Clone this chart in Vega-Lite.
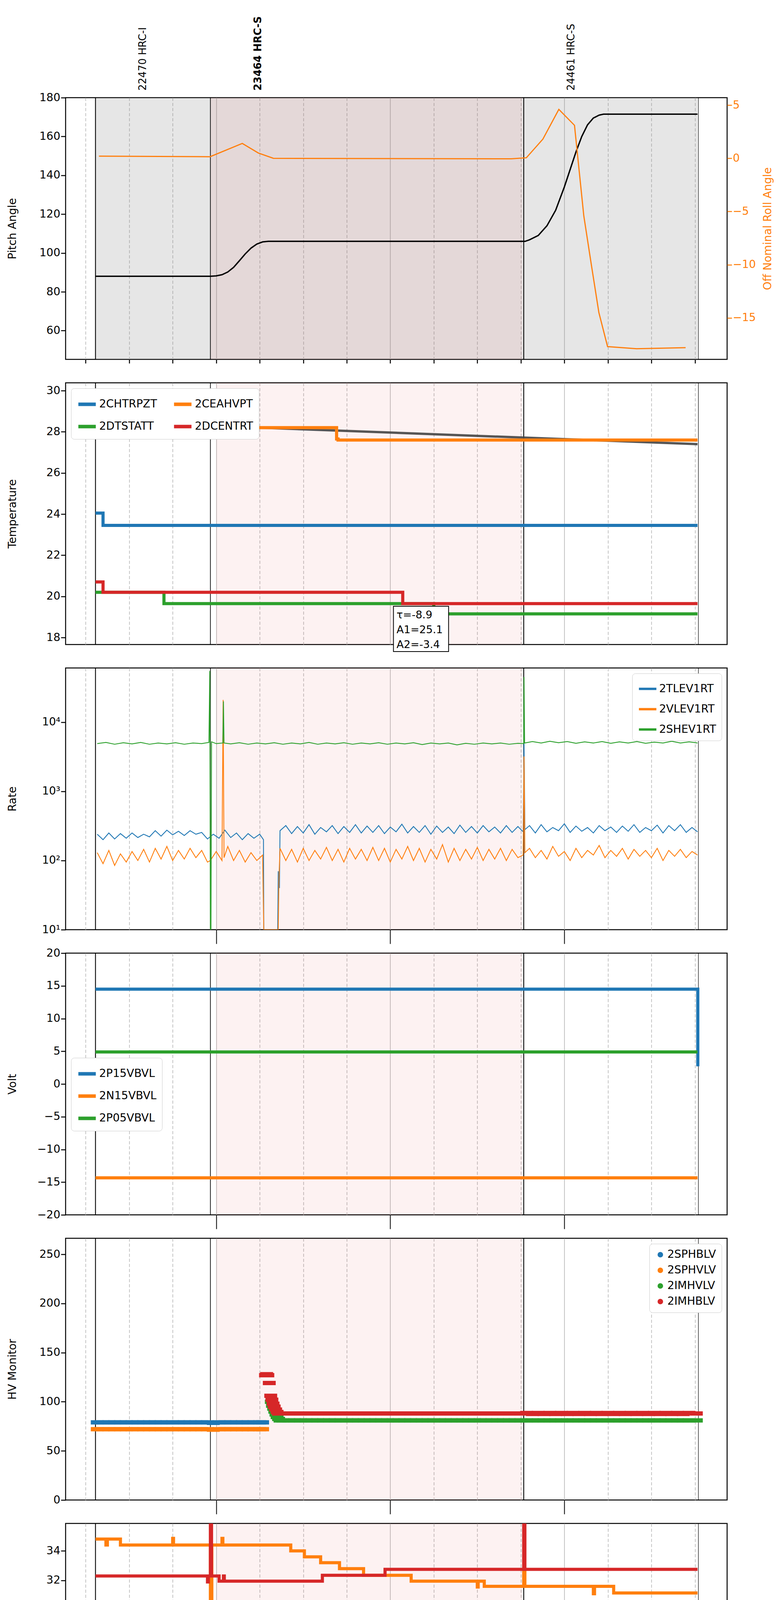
{
"$schema":"https://vega.github.io/schema/vega-lite/v6.json",
"padding":{"top":40,"left":16,"right":5,"bottom":5},
"background":"white",
"spacing":60,
"bounds":"flush",
"resolve":{"scale":{"color":"independent"}},
"config":{"font":"DejaVu Sans","view":{"stroke":"black","strokeWidth":2.5},
"axis":{"labelFontSize":28,"titleFontSize":28,"titleFontWeight":"normal","labelColor":"black","tickColor":"black","tickSize":12,"tickWidth":2.5,"domain":false,"grid":false,"labelFont":"DejaVu Sans","titleFont":"DejaVu Sans"},
"legend":{"fillColor":"white","strokeColor":"#cccccc","cornerRadius":8,"padding":14,"symbolStrokeWidth":9,"symbolSize":2000,"labelFontSize":28,"rowPadding":12,"columnPadding":24,"symbolType":"stroke","labelLimit":400,"title":null,"offset":14}},
"datasets":{
"bg":[{"a":60,"b":165.5}],
"bg1g":[{"a":18.4,"b":225.9}],
"bg1p":[{"a":58,"b":165.5}],
"vl":[{"m":18.4,"k":"major"},{"m":58,"k":"minor"},{"m":166,"k":"major"},{"m":226.2,"k":"end"}],
"obs":[{"m":34.8,"label":"22470 HRC-I","bold":false},{"m":74.5,"label":"23464 HRC-S","bold":true},{"m":182.4,"label":"24461 HRC-S","bold":false}],
"pitch":[{"m":18.4,"v":88},{"m":58,"v":88},{"m":60,"v":88.2},{"m":62,"v":88.8},{"m":64,"v":90.2},{"m":66,"v":92.6},{"m":68,"v":96},{"m":70,"v":99.5},{"m":72,"v":102.5},{"m":74,"v":104.6},{"m":76,"v":105.7},{"m":78,"v":106},{"m":166.5,"v":106},{"m":168,"v":106.8},{"m":171,"v":109},{"m":174,"v":114},{"m":177,"v":122},{"m":180,"v":134},{"m":182,"v":143},{"m":184,"v":152},{"m":186,"v":160},{"m":188,"v":166},{"m":190,"v":169.5},{"m":192,"v":171},{"m":193.5,"v":171.5},{"m":225.9,"v":171.5}],
"roll":[{"m":19.6,"v":0.2},{"m":57.9,"v":0.15},{"m":69,"v":1.4},{"m":74.5,"v":0.5},{"m":79.7,"v":0},{"m":161.7,"v":-0.05},{"m":166.9,"v":0.05},{"m":172.6,"v":1.8},{"m":178.1,"v":4.6},{"m":183.5,"v":3.1},{"m":186.7,"v":-5.4},{"m":189.3,"v":-10},{"m":191.9,"v":-14.5},{"m":194.9,"v":-17.7},{"m":204.9,"v":-17.9},{"m":221.8,"v":-17.8}],
"p2m":[{"m":18.4,"v":28.5},{"m":225.9,"v":27.4}],
"p2":[{"m":18.4,"s":"2CHTRPZT","v":24.05},{"m":21,"s":"2CHTRPZT","v":23.45},{"m":225.9,"s":"2CHTRPZT","v":23.45},
{"m":18.4,"s":"2CEAHVPT","v":28.9},{"m":27.5,"s":"2CEAHVPT","v":28.2},{"m":101.5,"s":"2CEAHVPT","v":27.65},{"m":102,"s":"2CEAHVPT","v":27.6},{"m":225.9,"s":"2CEAHVPT","v":27.6},
{"m":18.4,"s":"2DTSTATT","v":20.2},{"m":42,"s":"2DTSTATT","v":19.65},{"m":135,"s":"2DTSTATT","v":19.15},{"m":225.9,"s":"2DTSTATT","v":19.15},
{"m":18.4,"s":"2DCENTRT","v":20.7},{"m":21,"s":"2DCENTRT","v":20.2},{"m":124.3,"s":"2DCENTRT","v":19.65},{"m":225.9,"s":"2DCENTRT","v":19.65}],
"ann":[{"a":121.1,"b":140.1,"y1":19.52,"y2":17.32,"t":"τ=-8.9\nA1=25.1\nA2=-3.4"}],
"p3":[
{"m":19,"s":"2TLEV1RT","v":240},{"m":21,"s":"2TLEV1RT","v":200},{"m":23,"s":"2TLEV1RT","v":250},{"m":25,"s":"2TLEV1RT","v":205},{"m":27,"s":"2TLEV1RT","v":245},{"m":29,"s":"2TLEV1RT","v":210},{"m":31,"s":"2TLEV1RT","v":250},{"m":33,"s":"2TLEV1RT","v":215},{"m":35,"s":"2TLEV1RT","v":240},{"m":37,"s":"2TLEV1RT","v":220},{"m":39,"s":"2TLEV1RT","v":270},{"m":41,"s":"2TLEV1RT","v":225},{"m":43,"s":"2TLEV1RT","v":275},{"m":45,"s":"2TLEV1RT","v":235},{"m":47,"s":"2TLEV1RT","v":265},{"m":49,"s":"2TLEV1RT","v":230},{"m":51,"s":"2TLEV1RT","v":270},{"m":53,"s":"2TLEV1RT","v":240},{"m":55,"s":"2TLEV1RT","v":255},{"m":57,"s":"2TLEV1RT","v":205},{"m":59,"s":"2TLEV1RT","v":240},{"m":61,"s":"2TLEV1RT","v":210},{"m":63,"s":"2TLEV1RT","v":275},{"m":65,"s":"2TLEV1RT","v":215},{"m":67,"s":"2TLEV1RT","v":250},{"m":69,"s":"2TLEV1RT","v":200},{"m":71,"s":"2TLEV1RT","v":245},{"m":73,"s":"2TLEV1RT","v":210},{"m":75,"s":"2TLEV1RT","v":240},{"m":76.3,"s":"2TLEV1RT","v":200},{"m":76.4,"s":"2TLEV1RT","v":10},{"m":81.2,"s":"2TLEV1RT","v":10},{"m":81.4,"s":"2TLEV1RT","v":70},{"m":81.8,"s":"2TLEV1RT","v":40},{"m":82,"s":"2TLEV1RT","v":270},{"m":84,"s":"2TLEV1RT","v":320},{"m":86,"s":"2TLEV1RT","v":245},{"m":88,"s":"2TLEV1RT","v":310},{"m":90,"s":"2TLEV1RT","v":250},{"m":92,"s":"2TLEV1RT","v":330},{"m":94,"s":"2TLEV1RT","v":240},{"m":96,"s":"2TLEV1RT","v":300},{"m":98,"s":"2TLEV1RT","v":260},{"m":100,"s":"2TLEV1RT","v":320},{"m":102,"s":"2TLEV1RT","v":245},{"m":104,"s":"2TLEV1RT","v":310},{"m":106,"s":"2TLEV1RT","v":255},{"m":108,"s":"2TLEV1RT","v":330},{"m":110,"s":"2TLEV1RT","v":250},{"m":112,"s":"2TLEV1RT","v":315},{"m":114,"s":"2TLEV1RT","v":255},{"m":116,"s":"2TLEV1RT","v":320},{"m":118,"s":"2TLEV1RT","v":245},{"m":120,"s":"2TLEV1RT","v":305},{"m":122,"s":"2TLEV1RT","v":260},{"m":124,"s":"2TLEV1RT","v":335},{"m":126,"s":"2TLEV1RT","v":250},{"m":128,"s":"2TLEV1RT","v":310},{"m":130,"s":"2TLEV1RT","v":255},{"m":132,"s":"2TLEV1RT","v":320},{"m":134,"s":"2TLEV1RT","v":240},{"m":136,"s":"2TLEV1RT","v":315},{"m":138,"s":"2TLEV1RT","v":255},{"m":140,"s":"2TLEV1RT","v":305},{"m":142,"s":"2TLEV1RT","v":245},{"m":144,"s":"2TLEV1RT","v":325},{"m":146,"s":"2TLEV1RT","v":255},{"m":148,"s":"2TLEV1RT","v":310},{"m":150,"s":"2TLEV1RT","v":250},{"m":152,"s":"2TLEV1RT","v":320},{"m":154,"s":"2TLEV1RT","v":260},{"m":156,"s":"2TLEV1RT","v":305},{"m":158,"s":"2TLEV1RT","v":250},{"m":160,"s":"2TLEV1RT","v":320},{"m":162,"s":"2TLEV1RT","v":255},{"m":164,"s":"2TLEV1RT","v":310},{"m":165.8,"s":"2TLEV1RT","v":260},{"m":166.1,"s":"2TLEV1RT","v":5000},{"m":166.4,"s":"2TLEV1RT","v":280},{"m":168,"s":"2TLEV1RT","v":320},{"m":170,"s":"2TLEV1RT","v":250},{"m":172,"s":"2TLEV1RT","v":330},{"m":174,"s":"2TLEV1RT","v":260},{"m":176,"s":"2TLEV1RT","v":300},{"m":178,"s":"2TLEV1RT","v":270},{"m":180,"s":"2TLEV1RT","v":340},{"m":182,"s":"2TLEV1RT","v":255},{"m":184,"s":"2TLEV1RT","v":315},{"m":186,"s":"2TLEV1RT","v":265},{"m":188,"s":"2TLEV1RT","v":300},{"m":190,"s":"2TLEV1RT","v":250},{"m":192,"s":"2TLEV1RT","v":320},{"m":194,"s":"2TLEV1RT","v":270},{"m":196,"s":"2TLEV1RT","v":305},{"m":198,"s":"2TLEV1RT","v":255},{"m":200,"s":"2TLEV1RT","v":315},{"m":202,"s":"2TLEV1RT","v":265},{"m":204,"s":"2TLEV1RT","v":330},{"m":206,"s":"2TLEV1RT","v":255},{"m":208,"s":"2TLEV1RT","v":300},{"m":210,"s":"2TLEV1RT","v":270},{"m":212,"s":"2TLEV1RT","v":325},{"m":214,"s":"2TLEV1RT","v":250},{"m":216,"s":"2TLEV1RT","v":320},{"m":218,"s":"2TLEV1RT","v":270},{"m":220,"s":"2TLEV1RT","v":330},{"m":222,"s":"2TLEV1RT","v":255},{"m":224,"s":"2TLEV1RT","v":300},{"m":225.9,"s":"2TLEV1RT","v":260},
{"m":19,"s":"2VLEV1RT","v":130},{"m":21,"s":"2VLEV1RT","v":90},{"m":23,"s":"2VLEV1RT","v":140},{"m":25,"s":"2VLEV1RT","v":85},{"m":27,"s":"2VLEV1RT","v":125},{"m":29,"s":"2VLEV1RT","v":95},{"m":31,"s":"2VLEV1RT","v":135},{"m":33,"s":"2VLEV1RT","v":100},{"m":35,"s":"2VLEV1RT","v":145},{"m":37,"s":"2VLEV1RT","v":95},{"m":39,"s":"2VLEV1RT","v":150},{"m":41,"s":"2VLEV1RT","v":105},{"m":43,"s":"2VLEV1RT","v":160},{"m":45,"s":"2VLEV1RT","v":100},{"m":47,"s":"2VLEV1RT","v":140},{"m":49,"s":"2VLEV1RT","v":105},{"m":51,"s":"2VLEV1RT","v":150},{"m":53,"s":"2VLEV1RT","v":110},{"m":55,"s":"2VLEV1RT","v":140},{"m":57,"s":"2VLEV1RT","v":95},{"m":58,"s":"2VLEV1RT","v":100},{"m":60,"s":"2VLEV1RT","v":135},{"m":62,"s":"2VLEV1RT","v":100},{"m":62.4,"s":"2VLEV1RT","v":21000},{"m":62.7,"s":"2VLEV1RT","v":110},{"m":64,"s":"2VLEV1RT","v":160},{"m":66,"s":"2VLEV1RT","v":100},{"m":68,"s":"2VLEV1RT","v":140},{"m":70,"s":"2VLEV1RT","v":95},{"m":72,"s":"2VLEV1RT","v":130},{"m":74,"s":"2VLEV1RT","v":100},{"m":76,"s":"2VLEV1RT","v":120},{"m":76.4,"s":"2VLEV1RT","v":10},{"m":81.4,"s":"2VLEV1RT","v":10},{"m":81.6,"s":"2VLEV1RT","v":50},{"m":82,"s":"2VLEV1RT","v":150},{"m":84,"s":"2VLEV1RT","v":100},{"m":86,"s":"2VLEV1RT","v":145},{"m":88,"s":"2VLEV1RT","v":95},{"m":90,"s":"2VLEV1RT","v":150},{"m":92,"s":"2VLEV1RT","v":100},{"m":94,"s":"2VLEV1RT","v":140},{"m":96,"s":"2VLEV1RT","v":105},{"m":98,"s":"2VLEV1RT","v":155},{"m":100,"s":"2VLEV1RT","v":100},{"m":102,"s":"2VLEV1RT","v":145},{"m":104,"s":"2VLEV1RT","v":95},{"m":106,"s":"2VLEV1RT","v":150},{"m":108,"s":"2VLEV1RT","v":105},{"m":110,"s":"2VLEV1RT","v":145},{"m":112,"s":"2VLEV1RT","v":100},{"m":114,"s":"2VLEV1RT","v":155},{"m":116,"s":"2VLEV1RT","v":100},{"m":118,"s":"2VLEV1RT","v":150},{"m":120,"s":"2VLEV1RT","v":95},{"m":122,"s":"2VLEV1RT","v":145},{"m":124,"s":"2VLEV1RT","v":105},{"m":126,"s":"2VLEV1RT","v":160},{"m":128,"s":"2VLEV1RT","v":100},{"m":130,"s":"2VLEV1RT","v":150},{"m":132,"s":"2VLEV1RT","v":95},{"m":134,"s":"2VLEV1RT","v":145},{"m":136,"s":"2VLEV1RT","v":105},{"m":138,"s":"2VLEV1RT","v":170},{"m":140,"s":"2VLEV1RT","v":95},{"m":142,"s":"2VLEV1RT","v":150},{"m":144,"s":"2VLEV1RT","v":100},{"m":146,"s":"2VLEV1RT","v":145},{"m":148,"s":"2VLEV1RT","v":105},{"m":150,"s":"2VLEV1RT","v":155},{"m":152,"s":"2VLEV1RT","v":100},{"m":154,"s":"2VLEV1RT","v":145},{"m":156,"s":"2VLEV1RT","v":105},{"m":158,"s":"2VLEV1RT","v":150},{"m":160,"s":"2VLEV1RT","v":100},{"m":162,"s":"2VLEV1RT","v":145},{"m":164,"s":"2VLEV1RT","v":110},{"m":165.8,"s":"2VLEV1RT","v":120},{"m":166.1,"s":"2VLEV1RT","v":3200},{"m":166.4,"s":"2VLEV1RT","v":130},{"m":168,"s":"2VLEV1RT","v":150},{"m":170,"s":"2VLEV1RT","v":110},{"m":172,"s":"2VLEV1RT","v":140},{"m":174,"s":"2VLEV1RT","v":105},{"m":176,"s":"2VLEV1RT","v":160},{"m":178,"s":"2VLEV1RT","v":115},{"m":180,"s":"2VLEV1RT","v":135},{"m":182,"s":"2VLEV1RT","v":100},{"m":184,"s":"2VLEV1RT","v":150},{"m":186,"s":"2VLEV1RT","v":110},{"m":188,"s":"2VLEV1RT","v":140},{"m":190,"s":"2VLEV1RT","v":120},{"m":192,"s":"2VLEV1RT","v":165},{"m":194,"s":"2VLEV1RT","v":110},{"m":196,"s":"2VLEV1RT","v":140},{"m":198,"s":"2VLEV1RT","v":115},{"m":200,"s":"2VLEV1RT","v":150},{"m":202,"s":"2VLEV1RT","v":105},{"m":204,"s":"2VLEV1RT","v":145},{"m":206,"s":"2VLEV1RT","v":115},{"m":208,"s":"2VLEV1RT","v":140},{"m":210,"s":"2VLEV1RT","v":110},{"m":212,"s":"2VLEV1RT","v":150},{"m":214,"s":"2VLEV1RT","v":100},{"m":216,"s":"2VLEV1RT","v":140},{"m":218,"s":"2VLEV1RT","v":115},{"m":220,"s":"2VLEV1RT","v":145},{"m":222,"s":"2VLEV1RT","v":110},{"m":224,"s":"2VLEV1RT","v":135},{"m":225.9,"s":"2VLEV1RT","v":120},
{"m":19,"s":"2SHEV1RT","v":4900},{"m":22,"s":"2SHEV1RT","v":5100},{"m":25,"s":"2SHEV1RT","v":4800},{"m":28,"s":"2SHEV1RT","v":5050},{"m":31,"s":"2SHEV1RT","v":4850},{"m":34,"s":"2SHEV1RT","v":5100},{"m":37,"s":"2SHEV1RT","v":4800},{"m":40,"s":"2SHEV1RT","v":5000},{"m":43,"s":"2SHEV1RT","v":4850},{"m":46,"s":"2SHEV1RT","v":5050},{"m":49,"s":"2SHEV1RT","v":4800},{"m":52,"s":"2SHEV1RT","v":5000},{"m":55,"s":"2SHEV1RT","v":4900},{"m":57.5,"s":"2SHEV1RT","v":5100},{"m":57.8,"s":"2SHEV1RT","v":55000},{"m":58,"s":"2SHEV1RT","v":10},{"m":58.2,"s":"2SHEV1RT","v":10},{"m":58.4,"s":"2SHEV1RT","v":5200},{"m":60,"s":"2SHEV1RT","v":4900},{"m":62.3,"s":"2SHEV1RT","v":5000},{"m":62.5,"s":"2SHEV1RT","v":20000},{"m":62.7,"s":"2SHEV1RT","v":5000},{"m":65,"s":"2SHEV1RT","v":4850},{"m":68,"s":"2SHEV1RT","v":5050},{"m":71,"s":"2SHEV1RT","v":4800},{"m":74,"s":"2SHEV1RT","v":5000},{"m":77,"s":"2SHEV1RT","v":4850},{"m":80,"s":"2SHEV1RT","v":5050},{"m":83,"s":"2SHEV1RT","v":4800},{"m":86,"s":"2SHEV1RT","v":5000},{"m":89,"s":"2SHEV1RT","v":4850},{"m":92,"s":"2SHEV1RT","v":5100},{"m":95,"s":"2SHEV1RT","v":4800},{"m":98,"s":"2SHEV1RT","v":5000},{"m":101,"s":"2SHEV1RT","v":4850},{"m":104,"s":"2SHEV1RT","v":5050},{"m":107,"s":"2SHEV1RT","v":4800},{"m":110,"s":"2SHEV1RT","v":5000},{"m":113,"s":"2SHEV1RT","v":4850},{"m":116,"s":"2SHEV1RT","v":5050},{"m":119,"s":"2SHEV1RT","v":4800},{"m":122,"s":"2SHEV1RT","v":5000},{"m":125,"s":"2SHEV1RT","v":4850},{"m":128,"s":"2SHEV1RT","v":5050},{"m":131,"s":"2SHEV1RT","v":4750},{"m":134,"s":"2SHEV1RT","v":5000},{"m":137,"s":"2SHEV1RT","v":4850},{"m":140,"s":"2SHEV1RT","v":5000},{"m":143,"s":"2SHEV1RT","v":4700},{"m":146,"s":"2SHEV1RT","v":4950},{"m":149,"s":"2SHEV1RT","v":4800},{"m":152,"s":"2SHEV1RT","v":5000},{"m":155,"s":"2SHEV1RT","v":4850},{"m":158,"s":"2SHEV1RT","v":5000},{"m":161,"s":"2SHEV1RT","v":4800},{"m":164,"s":"2SHEV1RT","v":4950},{"m":166,"s":"2SHEV1RT","v":4900},{"m":166.1,"s":"2SHEV1RT","v":45000},{"m":166.3,"s":"2SHEV1RT","v":5000},{"m":169,"s":"2SHEV1RT","v":5250},{"m":172,"s":"2SHEV1RT","v":5000},{"m":175,"s":"2SHEV1RT","v":5300},{"m":178,"s":"2SHEV1RT","v":5050},{"m":181,"s":"2SHEV1RT","v":5250},{"m":184,"s":"2SHEV1RT","v":4950},{"m":187,"s":"2SHEV1RT","v":5200},{"m":190,"s":"2SHEV1RT","v":5000},{"m":193,"s":"2SHEV1RT","v":5250},{"m":196,"s":"2SHEV1RT","v":4950},{"m":199,"s":"2SHEV1RT","v":5200},{"m":202,"s":"2SHEV1RT","v":5000},{"m":205,"s":"2SHEV1RT","v":5250},{"m":208,"s":"2SHEV1RT","v":4950},{"m":211,"s":"2SHEV1RT","v":5150},{"m":214,"s":"2SHEV1RT","v":5000},{"m":217,"s":"2SHEV1RT","v":5300},{"m":220,"s":"2SHEV1RT","v":5000},{"m":223,"s":"2SHEV1RT","v":5200},{"m":225.9,"s":"2SHEV1RT","v":5000}],
"p4":[{"m":18.4,"s":"2P15VBVL","v":14.5},{"m":225.9,"s":"2P15VBVL","v":14.5},{"m":226,"s":"2P15VBVL","v":2.7},
{"m":18.4,"s":"2N15VBVL","v":-14.35},{"m":225.9,"s":"2N15VBVL","v":-14.35},
{"m":18.4,"s":"2P05VBVL","v":4.9},{"m":225.9,"s":"2P05VBVL","v":4.9}],
"p5":[
{"m":19,"s":"2SPHBLV","v":79},{"m":21,"s":"2SPHBLV","v":79},{"m":23,"s":"2SPHBLV","v":79},{"m":25,"s":"2SPHBLV","v":79},{"m":27,"s":"2SPHBLV","v":79},{"m":29,"s":"2SPHBLV","v":79},{"m":31,"s":"2SPHBLV","v":79},{"m":33,"s":"2SPHBLV","v":79},{"m":35,"s":"2SPHBLV","v":79},{"m":37,"s":"2SPHBLV","v":79},{"m":39,"s":"2SPHBLV","v":79},{"m":41,"s":"2SPHBLV","v":79},{"m":43,"s":"2SPHBLV","v":79},{"m":45,"s":"2SPHBLV","v":79},{"m":47,"s":"2SPHBLV","v":79},{"m":49,"s":"2SPHBLV","v":79},{"m":51,"s":"2SPHBLV","v":79},{"m":53,"s":"2SPHBLV","v":79},{"m":55,"s":"2SPHBLV","v":79},{"m":57,"s":"2SPHBLV","v":79},{"m":59,"s":"2SPHBLV","v":78.5},{"m":61,"s":"2SPHBLV","v":79},{"m":63,"s":"2SPHBLV","v":79},{"m":65,"s":"2SPHBLV","v":79},{"m":67,"s":"2SPHBLV","v":79},{"m":69,"s":"2SPHBLV","v":79},{"m":71,"s":"2SPHBLV","v":79},{"m":73,"s":"2SPHBLV","v":79},{"m":75,"s":"2SPHBLV","v":79},{"m":76,"s":"2SPHBLV","v":79},
{"m":19,"s":"2SPHVLV","v":72},{"m":21,"s":"2SPHVLV","v":72},{"m":23,"s":"2SPHVLV","v":72},{"m":25,"s":"2SPHVLV","v":72},{"m":27,"s":"2SPHVLV","v":72},{"m":29,"s":"2SPHVLV","v":72},{"m":31,"s":"2SPHVLV","v":72},{"m":33,"s":"2SPHVLV","v":72},{"m":35,"s":"2SPHVLV","v":72},{"m":37,"s":"2SPHVLV","v":72},{"m":39,"s":"2SPHVLV","v":72},{"m":41,"s":"2SPHVLV","v":72},{"m":43,"s":"2SPHVLV","v":72},{"m":45,"s":"2SPHVLV","v":72},{"m":47,"s":"2SPHVLV","v":72},{"m":49,"s":"2SPHVLV","v":72},{"m":51,"s":"2SPHVLV","v":72},{"m":53,"s":"2SPHVLV","v":72},{"m":55,"s":"2SPHVLV","v":72},{"m":57,"s":"2SPHVLV","v":72},{"m":59,"s":"2SPHVLV","v":71.5},{"m":61,"s":"2SPHVLV","v":72},{"m":63,"s":"2SPHVLV","v":72},{"m":65,"s":"2SPHVLV","v":72},{"m":67,"s":"2SPHVLV","v":72},{"m":69,"s":"2SPHVLV","v":72},{"m":71,"s":"2SPHVLV","v":72},{"m":73,"s":"2SPHVLV","v":72},{"m":75,"s":"2SPHVLV","v":72},{"m":76,"s":"2SPHVLV","v":72},
{"m":79,"s":"2IMHVLV","v":100},{"m":79.4,"s":"2IMHVLV","v":96},{"m":79.8,"s":"2IMHVLV","v":93},{"m":80.2,"s":"2IMHVLV","v":90},{"m":80.6,"s":"2IMHVLV","v":87},{"m":81,"s":"2IMHVLV","v":84.5},{"m":81.5,"s":"2IMHVLV","v":82.5},{"m":82,"s":"2IMHVLV","v":81},{"m":83,"s":"2IMHVLV","v":81},{"m":85,"s":"2IMHVLV","v":81},{"m":87,"s":"2IMHVLV","v":81},{"m":89,"s":"2IMHVLV","v":81},{"m":91,"s":"2IMHVLV","v":81},{"m":93,"s":"2IMHVLV","v":81},{"m":95,"s":"2IMHVLV","v":81},{"m":97,"s":"2IMHVLV","v":81},{"m":99,"s":"2IMHVLV","v":81},{"m":101,"s":"2IMHVLV","v":81},{"m":103,"s":"2IMHVLV","v":81},{"m":105,"s":"2IMHVLV","v":81},{"m":107,"s":"2IMHVLV","v":81},{"m":109,"s":"2IMHVLV","v":81},{"m":111,"s":"2IMHVLV","v":81},{"m":113,"s":"2IMHVLV","v":81},{"m":115,"s":"2IMHVLV","v":81},{"m":117,"s":"2IMHVLV","v":81},{"m":119,"s":"2IMHVLV","v":81},{"m":121,"s":"2IMHVLV","v":81},{"m":123,"s":"2IMHVLV","v":81},{"m":125,"s":"2IMHVLV","v":81},{"m":127,"s":"2IMHVLV","v":81},{"m":129,"s":"2IMHVLV","v":81},{"m":131,"s":"2IMHVLV","v":81},{"m":133,"s":"2IMHVLV","v":81},{"m":135,"s":"2IMHVLV","v":81},{"m":137,"s":"2IMHVLV","v":81},{"m":139,"s":"2IMHVLV","v":81},{"m":141,"s":"2IMHVLV","v":81},{"m":143,"s":"2IMHVLV","v":81},{"m":145,"s":"2IMHVLV","v":81},{"m":147,"s":"2IMHVLV","v":81},{"m":149,"s":"2IMHVLV","v":81},{"m":151,"s":"2IMHVLV","v":81},{"m":153,"s":"2IMHVLV","v":81},{"m":155,"s":"2IMHVLV","v":81},{"m":157,"s":"2IMHVLV","v":81},{"m":159,"s":"2IMHVLV","v":81},{"m":161,"s":"2IMHVLV","v":81},{"m":163,"s":"2IMHVLV","v":81},{"m":165,"s":"2IMHVLV","v":81},{"m":167,"s":"2IMHVLV","v":81},{"m":169,"s":"2IMHVLV","v":81},{"m":171,"s":"2IMHVLV","v":81},{"m":173,"s":"2IMHVLV","v":81},{"m":175,"s":"2IMHVLV","v":81},{"m":177,"s":"2IMHVLV","v":81},{"m":179,"s":"2IMHVLV","v":81},{"m":181,"s":"2IMHVLV","v":81},{"m":183,"s":"2IMHVLV","v":81},{"m":185,"s":"2IMHVLV","v":81},{"m":187,"s":"2IMHVLV","v":81},{"m":189,"s":"2IMHVLV","v":81},{"m":191,"s":"2IMHVLV","v":81},{"m":193,"s":"2IMHVLV","v":81},{"m":195,"s":"2IMHVLV","v":81},{"m":197,"s":"2IMHVLV","v":81},{"m":199,"s":"2IMHVLV","v":81},{"m":201,"s":"2IMHVLV","v":81},{"m":203,"s":"2IMHVLV","v":81},{"m":205,"s":"2IMHVLV","v":81},{"m":207,"s":"2IMHVLV","v":81},{"m":209,"s":"2IMHVLV","v":81},{"m":211,"s":"2IMHVLV","v":81},{"m":213,"s":"2IMHVLV","v":81},{"m":215,"s":"2IMHVLV","v":81},{"m":217,"s":"2IMHVLV","v":81},{"m":219,"s":"2IMHVLV","v":81},{"m":221,"s":"2IMHVLV","v":81},{"m":223,"s":"2IMHVLV","v":81},{"m":225.5,"s":"2IMHVLV","v":81},
{"m":77,"s":"2IMHBLV","v":127},{"m":77.4,"s":"2IMHBLV","v":128},{"m":77.8,"s":"2IMHBLV","v":127},{"m":78.3,"s":"2IMHBLV","v":119},{"m":78.8,"s":"2IMHBLV","v":106},{"m":79.2,"s":"2IMHBLV","v":102},{"m":79.6,"s":"2IMHBLV","v":98},{"m":80,"s":"2IMHBLV","v":95},{"m":80.5,"s":"2IMHBLV","v":92},{"m":81,"s":"2IMHBLV","v":89.5},{"m":81.5,"s":"2IMHBLV","v":88},{"m":83,"s":"2IMHBLV","v":88},{"m":85,"s":"2IMHBLV","v":88},{"m":87,"s":"2IMHBLV","v":88},{"m":89,"s":"2IMHBLV","v":88},{"m":91,"s":"2IMHBLV","v":88},{"m":93,"s":"2IMHBLV","v":88},{"m":95,"s":"2IMHBLV","v":88},{"m":97,"s":"2IMHBLV","v":88},{"m":99,"s":"2IMHBLV","v":88},{"m":101,"s":"2IMHBLV","v":88},{"m":103,"s":"2IMHBLV","v":88},{"m":105,"s":"2IMHBLV","v":88},{"m":107,"s":"2IMHBLV","v":88},{"m":109,"s":"2IMHBLV","v":88},{"m":111,"s":"2IMHBLV","v":88},{"m":113,"s":"2IMHBLV","v":88},{"m":115,"s":"2IMHBLV","v":88},{"m":117,"s":"2IMHBLV","v":88},{"m":119,"s":"2IMHBLV","v":88},{"m":121,"s":"2IMHBLV","v":88},{"m":123,"s":"2IMHBLV","v":88},{"m":125,"s":"2IMHBLV","v":88},{"m":127,"s":"2IMHBLV","v":88},{"m":129,"s":"2IMHBLV","v":88},{"m":131,"s":"2IMHBLV","v":88},{"m":133,"s":"2IMHBLV","v":88},{"m":135,"s":"2IMHBLV","v":88},{"m":137,"s":"2IMHBLV","v":88},{"m":139,"s":"2IMHBLV","v":88},{"m":141,"s":"2IMHBLV","v":88},{"m":143,"s":"2IMHBLV","v":88},{"m":145,"s":"2IMHBLV","v":88},{"m":147,"s":"2IMHBLV","v":88},{"m":149,"s":"2IMHBLV","v":88},{"m":151,"s":"2IMHBLV","v":88},{"m":153,"s":"2IMHBLV","v":88},{"m":155,"s":"2IMHBLV","v":88},{"m":157,"s":"2IMHBLV","v":88},{"m":159,"s":"2IMHBLV","v":88},{"m":161,"s":"2IMHBLV","v":88},{"m":163,"s":"2IMHBLV","v":88},{"m":165,"s":"2IMHBLV","v":88},{"m":167,"s":"2IMHBLV","v":88.5},{"m":169,"s":"2IMHBLV","v":87.5},{"m":171,"s":"2IMHBLV","v":88.5},{"m":173,"s":"2IMHBLV","v":87.5},{"m":175,"s":"2IMHBLV","v":88.5},{"m":177,"s":"2IMHBLV","v":87.5},{"m":179,"s":"2IMHBLV","v":88.5},{"m":181,"s":"2IMHBLV","v":87.5},{"m":183,"s":"2IMHBLV","v":88.5},{"m":185,"s":"2IMHBLV","v":87.5},{"m":187,"s":"2IMHBLV","v":88.5},{"m":189,"s":"2IMHBLV","v":87.5},{"m":191,"s":"2IMHBLV","v":88.5},{"m":193,"s":"2IMHBLV","v":87.5},{"m":195,"s":"2IMHBLV","v":88.5},{"m":197,"s":"2IMHBLV","v":87.5},{"m":199,"s":"2IMHBLV","v":88.5},{"m":201,"s":"2IMHBLV","v":87.5},{"m":203,"s":"2IMHBLV","v":88.5},{"m":205,"s":"2IMHBLV","v":87.5},{"m":207,"s":"2IMHBLV","v":88.5},{"m":209,"s":"2IMHBLV","v":87.5},{"m":211,"s":"2IMHBLV","v":88.5},{"m":213,"s":"2IMHBLV","v":87.5},{"m":215,"s":"2IMHBLV","v":88.5},{"m":217,"s":"2IMHBLV","v":87.5},{"m":219,"s":"2IMHBLV","v":88.5},{"m":221,"s":"2IMHBLV","v":87.5},{"m":223,"s":"2IMHBLV","v":88.5},{"m":225.5,"s":"2IMHBLV","v":88}],
"p6":[
{"m":18.4,"s":"2SPINATM","v":20.3},{"m":71.4,"s":"2SPINATM","v":19.65},{"m":165.9,"s":"2SPINATM","v":19.65},{"m":166,"s":"2SPINATM","v":18.13},{"m":166.4,"s":"2SPINATM","v":19.65},{"m":192.8,"s":"2SPINATM","v":18.95},{"m":225.9,"s":"2SPINATM","v":18.95},
{"m":18.4,"s":"2SPHVATM","v":34.8},{"m":22,"s":"2SPHVATM","v":34.4},{"m":22.5,"s":"2SPHVATM","v":34.8},{"m":27,"s":"2SPHVATM","v":34.4},{"m":45,"s":"2SPHVATM","v":34.85},{"m":45.3,"s":"2SPHVATM","v":34.4},{"m":57.9,"s":"2SPHVATM","v":34.4},{"m":58,"s":"2SPHVATM","v":18.13},{"m":58.5,"s":"2SPHVATM","v":34.4},{"m":62,"s":"2SPHVATM","v":34.85},{"m":62.3,"s":"2SPHVATM","v":34.4},{"m":85.7,"s":"2SPHVATM","v":34.0},{"m":90.4,"s":"2SPHVATM","v":33.6},{"m":96,"s":"2SPHVATM","v":33.2},{"m":102.5,"s":"2SPHVATM","v":32.8},{"m":110.8,"s":"2SPHVATM","v":32.35},{"m":127.2,"s":"2SPHVATM","v":31.95},{"m":150,"s":"2SPHVATM","v":31.55},{"m":150.3,"s":"2SPHVATM","v":31.95},{"m":152.4,"s":"2SPHVATM","v":31.6},{"m":166,"s":"2SPHVATM","v":32.7},{"m":166.4,"s":"2SPHVATM","v":31.6},{"m":190,"s":"2SPHVATM","v":31.1},{"m":190.4,"s":"2SPHVATM","v":31.6},{"m":197,"s":"2SPHVATM","v":31.15},{"m":225.9,"s":"2SPHVATM","v":31.15},
{"m":18.4,"s":"2IMINATM","v":20.3},{"m":57.9,"s":"2IMINATM","v":20.3},{"m":58,"s":"2IMINATM","v":18.13},{"m":58.4,"s":"2IMINATM","v":20.3},{"m":85.5,"s":"2IMINATM","v":19.6},{"m":85.8,"s":"2IMINATM","v":20.3},{"m":103.5,"s":"2IMINATM","v":19.65},{"m":103.8,"s":"2IMINATM","v":20.3},{"m":106.4,"s":"2IMINATM","v":19.65},{"m":225.9,"s":"2IMINATM","v":19.65},
{"m":18.4,"s":"2IMHVATM","v":32.3},{"m":57,"s":"2IMHVATM","v":31.9},{"m":57.3,"s":"2IMHVATM","v":32.3},{"m":58,"s":"2IMHVATM","v":35.86},{"m":58.4,"s":"2IMHVATM","v":32.3},{"m":61,"s":"2IMHVATM","v":31.95},{"m":62.5,"s":"2IMHVATM","v":32.3},{"m":62.8,"s":"2IMHVATM","v":31.95},{"m":96.6,"s":"2IMHVATM","v":32.35},{"m":118.2,"s":"2IMHVATM","v":32.75},{"m":166,"s":"2IMHVATM","v":35.86},{"m":166.4,"s":"2IMHVATM","v":32.75},{"m":225.9,"s":"2IMHVATM","v":32.75}],
"p7":[
{"m":18.4,"s":"2FHTRMZT","v":21.3},{"m":37,"s":"2FHTRMZT","v":20.7},{"m":225.9,"s":"2FHTRMZT","v":20.7},
{"m":18.4,"s":"2FRADPYT","v":15.7},{"m":66.4,"s":"2FRADPYT","v":15.2},{"m":81.6,"s":"2FRADPYT","v":15.7},{"m":194.2,"s":"2FRADPYT","v":16.2},{"m":208.7,"s":"2FRADPYT","v":16.65},{"m":225.9,"s":"2FRADPYT","v":16.65},
{"m":18.4,"s":"2FEPRATM","v":23.1},{"m":58,"s":"2FEPRATM","v":24.66},{"m":58.4,"s":"2FEPRATM","v":23.1},{"m":69.7,"s":"2FEPRATM","v":22.4},{"m":87.5,"s":"2FEPRATM","v":23.1},{"m":87.8,"s":"2FEPRATM","v":22.4},{"m":166,"s":"2FEPRATM","v":24.66},{"m":166.4,"s":"2FEPRATM","v":22.4},{"m":225.9,"s":"2FEPRATM","v":22.4},
{"m":18.4,"s":"2FE00ATM","v":21.4},{"m":25.6,"s":"2FE00ATM","v":21.1},{"m":29,"s":"2FE00ATM","v":21.7},{"m":29.3,"s":"2FE00ATM","v":21.1},{"m":35,"s":"2FE00ATM","v":21.4},{"m":35.3,"s":"2FE00ATM","v":21.1},{"m":41.9,"s":"2FE00ATM","v":22.0},{"m":42.2,"s":"2FE00ATM","v":21.1},{"m":46.9,"s":"2FE00ATM","v":20.7},{"m":47.2,"s":"2FE00ATM","v":21.1},{"m":55.3,"s":"2FE00ATM","v":21.7},{"m":55.6,"s":"2FE00ATM","v":21.1},{"m":58,"s":"2FE00ATM","v":14.21},{"m":58.5,"s":"2FE00ATM","v":21.1},{"m":62.6,"s":"2FE00ATM","v":20.7},{"m":62.9,"s":"2FE00ATM","v":21.1},{"m":68.5,"s":"2FE00ATM","v":20.4},{"m":68.8,"s":"2FE00ATM","v":21.1},{"m":74,"s":"2FE00ATM","v":20.6},{"m":74.3,"s":"2FE00ATM","v":21.1},{"m":85.7,"s":"2FE00ATM","v":20.8},{"m":86,"s":"2FE00ATM","v":20.1},{"m":86.3,"s":"2FE00ATM","v":20.8},{"m":87,"s":"2FE00ATM","v":21.1},{"m":87.3,"s":"2FE00ATM","v":20.8},{"m":95.4,"s":"2FE00ATM","v":21.7},{"m":95.7,"s":"2FE00ATM","v":20.8},{"m":104,"s":"2FE00ATM","v":21.1},{"m":104.3,"s":"2FE00ATM","v":20.8},{"m":110,"s":"2FE00ATM","v":21.1},{"m":110.3,"s":"2FE00ATM","v":20.8},{"m":118,"s":"2FE00ATM","v":21.1},{"m":118.3,"s":"2FE00ATM","v":20.8},{"m":119.8,"s":"2FE00ATM","v":21.4},{"m":120,"s":"2FE00ATM","v":20.1},{"m":120.3,"s":"2FE00ATM","v":20.8},{"m":127.5,"s":"2FE00ATM","v":21.4},{"m":127.8,"s":"2FE00ATM","v":20.8},{"m":131.8,"s":"2FE00ATM","v":21.4},{"m":132.1,"s":"2FE00ATM","v":20.8},{"m":139.3,"s":"2FE00ATM","v":21.4},{"m":139.6,"s":"2FE00ATM","v":20.8},{"m":140.5,"s":"2FE00ATM","v":19.5},{"m":140.8,"s":"2FE00ATM","v":20.8},{"m":142,"s":"2FE00ATM","v":21.1},{"m":142.3,"s":"2FE00ATM","v":20.8},{"m":145,"s":"2FE00ATM","v":21.1},{"m":145.3,"s":"2FE00ATM","v":20.8},{"m":166,"s":"2FE00ATM","v":14.21},{"m":166.5,"s":"2FE00ATM","v":20.8},{"m":208,"s":"2FE00ATM","v":21.1},{"m":225.9,"s":"2FE00ATM","v":21.1}]
},
"vconcat":[
{"width":1694,"height":670,
"layer":[
{"data":{"name":"bg1g"},"mark":{"type":"rect","color":"#808080","opacity":0.2},"encoding":{"x":{"field":"a","type":"quantitative","scale":{"domain":[8.1,236.1],"nice":false,"zero":false},"axis":{"values":[15,30,45,60,75,90,105,120,135,150,165,180,195,210,225],"grid":true,"gridColor":"#b0b0b0","gridWidth":1.5,"gridDash":{"condition":{"test":"datum.value%60==0","value":[]},"value":[8,5]},"labels":false,"tickSize":10,"title":null}},"x2":{"field":"b"}}},
{"data":{"name":"bg1p"},"mark":{"type":"rect","color":"#d62728","opacity":0.07},"encoding":{"x":{"field":"a","type":"quantitative"},"x2":{"field":"b"}}},
{"data":{"name":"vl"},"mark":{"type":"rule","color":"black"},"encoding":{"x":{"field":"m","type":"quantitative"},"strokeWidth":{"field":"k","type":"nominal","scale":{"domain":["major","minor","end"],"range":[2.2,1.2,1]},"legend":null}}},
{"data":{"name":"obs"},"transform":[{"filter":"!datum.bold"}],"mark":{"type":"text","angle":270,"align":"left","baseline":"middle","dx":18,"fontSize":26,"font":"DejaVu Sans"},"encoding":{"x":{"field":"m","type":"quantitative"},"y":{"value":0},"text":{"field":"label"}}},
{"data":{"name":"obs"},"transform":[{"filter":"datum.bold"}],"mark":{"type":"text","angle":270,"align":"left","baseline":"middle","dx":18,"fontSize":26,"fontWeight":"bold","font":"DejaVu Sans"},"encoding":{"x":{"field":"m","type":"quantitative"},"y":{"value":0},"text":{"field":"label"}}},
{"layer":[
{"data":{"name":"pitch"},"mark":{"type":"line","color":"black","strokeWidth":3.5},"encoding":{"x":{"field":"m","type":"quantitative"},"y":{"field":"v","type":"quantitative","scale":{"domain":[45.2,180],"nice":false,"zero":false},"axis":{"values":[60,80,100,120,140,160,180],"title":"Pitch Angle","titleX":-122,"orient":"left"}}}},
{"data":{"name":"roll"},"mark":{"type":"line","color":"#ff7f0e","strokeWidth":3},"encoding":{"x":{"field":"m","type":"quantitative"},"y":{"field":"v","type":"quantitative","scale":{"domain":[-18.9,5.7],"nice":false,"zero":false},"axis":{"orient":"right","values":[-15,-10,-5,0,5],"labelExpr":"replace(format(datum.value,'d'),'-','−')","labelColor":"#ff7f0e","tickColor":"#ff7f0e","title":"Off Nominal Roll Angle","titleColor":"#ff7f0e","titleAngle":270,"titleX":118,"titleY":335}}}}
],"resolve":{"scale":{"y":"independent"}}}
]},

{"width":1694,"height":670,
"layer":[
{"data":{"name":"bg"},"mark":{"type":"rect","color":"#d62728","opacity":0.06},"encoding":{"x":{"field":"a","type":"quantitative","scale":{"domain":[8.1,236.1],"nice":false,"zero":false},"axis":{"values":[15,30,45,60,75,90,105,120,135,150,165,180,195,210,225],"grid":true,"gridColor":"#b0b0b0","gridWidth":1.5,"gridDash":{"condition":{"test":"datum.value%60==0","value":[]},"value":[8,5]},"labels":false,"ticks":false,"title":null}},"x2":{"field":"b"}}},
{"data":{"name":"vl"},"mark":{"type":"rule","color":"black"},"encoding":{"x":{"field":"m","type":"quantitative"},"strokeWidth":{"field":"k","type":"nominal","scale":{"domain":["major","minor","end"],"range":[2.2,1.2,1]},"legend":null}}},
{"data":{"name":"p2m"},"mark":{"type":"line","color":"#444444","opacity":0.9,"strokeWidth":6},"encoding":{"x":{"field":"m","type":"quantitative"},"y":{"field":"v","type":"quantitative","scale":{"domain":[17.66,30.38],"nice":false,"zero":false},"axis":{"values":[18,20,22,24,26,28,30],"title":"Temperature","titleX":-122}}}},
{"data":{"name":"p2"},"mark":{"type":"line","interpolate":"step-after","strokeWidth":8},"encoding":{"x":{"field":"m","type":"quantitative"},"y":{"field":"v","type":"quantitative"},"color":{"field":"s","type":"nominal","scale":{"domain":["2CHTRPZT","2DTSTATT","2CEAHVPT","2DCENTRT"],"range":["#1f77b4","#2ca02c","#ff7f0e","#d62728"]},"legend":{"orient":"top-left","columns":2}}}},
{"data":{"name":"ann"},"mark":{"type":"rect","fill":"white","stroke":"black","strokeWidth":2},"encoding":{"x":{"field":"a","type":"quantitative"},"x2":{"field":"b"},"y":{"field":"y1","type":"quantitative"},"y2":{"field":"y2"}}},
{"data":{"name":"ann"},"mark":{"type":"text","align":"left","baseline":"top","fontSize":27,"lineHeight":38,"lineBreak":"\n","dx":8,"dy":10,"font":"DejaVu Sans"},"encoding":{"x":{"field":"a","type":"quantitative"},"y":{"field":"y1","type":"quantitative"},"text":{"field":"t"}}}
]},

{"width":1694,"height":670,
"layer":[
{"data":{"name":"bg"},"mark":{"type":"rect","color":"#d62728","opacity":0.06},"encoding":{"x":{"field":"a","type":"quantitative","scale":{"domain":[8.1,236.1],"nice":false,"zero":false},"axis":{"values":[15,30,45,60,75,90,105,120,135,150,165,180,195,210,225],"grid":true,"gridColor":"#b0b0b0","gridWidth":1.5,"gridDash":{"condition":{"test":"datum.value%60==0","value":[]},"value":[8,5]},"labels":false,"tickWidth":2,"tickSize":{"condition":{"test":"datum.value%60==0","value":36},"value":0},"title":null}},"x2":{"field":"b"}}},
{"data":{"name":"vl"},"mark":{"type":"rule","color":"black"},"encoding":{"x":{"field":"m","type":"quantitative"},"strokeWidth":{"field":"k","type":"nominal","scale":{"domain":["major","minor","end"],"range":[2.2,1.2,1]},"legend":null}}},
{"data":{"name":"p3"},"mark":{"type":"line","strokeWidth":2.2,"clip":true},"encoding":{"x":{"field":"m","type":"quantitative"},"y":{"field":"v","type":"quantitative","scale":{"type":"log","domain":[10,60800],"nice":false},"axis":{"values":[10,100,1000,10000],"labelExpr":"datum.value==10?'10¹':datum.value==100?'10²':datum.value==1000?'10³':'10⁴'","title":"Rate","titleX":-122}},"color":{"field":"s","type":"nominal","scale":{"domain":["2TLEV1RT","2VLEV1RT","2SHEV1RT"],"range":["#1f77b4","#ff7f0e","#2ca02c"]},"legend":{"orient":"top-right","symbolStrokeWidth":6}}}}
]},

{"width":1694,"height":670,
"layer":[
{"data":{"name":"bg"},"mark":{"type":"rect","color":"#d62728","opacity":0.06},"encoding":{"x":{"field":"a","type":"quantitative","scale":{"domain":[8.1,236.1],"nice":false,"zero":false},"axis":{"values":[15,30,45,60,75,90,105,120,135,150,165,180,195,210,225],"grid":true,"gridColor":"#b0b0b0","gridWidth":1.5,"gridDash":{"condition":{"test":"datum.value%60==0","value":[]},"value":[8,5]},"labels":false,"tickWidth":2,"tickSize":{"condition":{"test":"datum.value%60==0","value":36},"value":0},"title":null}},"x2":{"field":"b"}}},
{"data":{"name":"vl"},"mark":{"type":"rule","color":"black"},"encoding":{"x":{"field":"m","type":"quantitative"},"strokeWidth":{"field":"k","type":"nominal","scale":{"domain":["major","minor","end"],"range":[2.2,1.2,1]},"legend":null}}},
{"data":{"name":"p4"},"mark":{"type":"line","interpolate":"step-after","strokeWidth":8},"encoding":{"x":{"field":"m","type":"quantitative"},"y":{"field":"v","type":"quantitative","scale":{"domain":[-20,20],"nice":false},"axis":{"values":[-20,-15,-10,-5,0,5,10,15,20],"labelExpr":"replace(format(datum.value,'d'),'-','−')","title":"Volt","titleX":-122}},"color":{"field":"s","type":"nominal","scale":{"domain":["2P15VBVL","2N15VBVL","2P05VBVL"],"range":["#1f77b4","#ff7f0e","#2ca02c"]},"legend":{"orient":"none","legendX":14,"legendY":268}}}}
]},

{"width":1694,"height":670,
"layer":[
{"data":{"name":"bg"},"mark":{"type":"rect","color":"#d62728","opacity":0.06},"encoding":{"x":{"field":"a","type":"quantitative","scale":{"domain":[8.1,236.1],"nice":false,"zero":false},"axis":{"values":[15,30,45,60,75,90,105,120,135,150,165,180,195,210,225],"grid":true,"gridColor":"#b0b0b0","gridWidth":1.5,"gridDash":{"condition":{"test":"datum.value%60==0","value":[]},"value":[8,5]},"labels":false,"tickWidth":2,"tickSize":{"condition":{"test":"datum.value%60==0","value":36},"value":0},"title":null}},"x2":{"field":"b"}}},
{"data":{"name":"vl"},"mark":{"type":"rule","color":"black"},"encoding":{"x":{"field":"m","type":"quantitative"},"strokeWidth":{"field":"k","type":"nominal","scale":{"domain":["major","minor","end"],"range":[2.2,1.2,1]},"legend":null}}},
{"data":{"name":"p5"},"mark":{"type":"point","filled":true,"opacity":1,"size":484,"shape":"M-1.5,-0.5H1.5V0.5H-1.5Z"},"encoding":{"x":{"field":"m","type":"quantitative"},"y":{"field":"v","type":"quantitative","scale":{"domain":[0,266.3],"nice":false},"axis":{"values":[0,50,100,150,200,250],"title":"HV Monitor","titleX":-122}},"color":{"field":"s","type":"nominal","scale":{"domain":["2SPHBLV","2SPHVLV","2IMHVLV","2IMHBLV"],"range":["#1f77b4","#ff7f0e","#2ca02c","#d62728"]},"legend":{"orient":"top-right","symbolType":"circle","symbolSize":200}}}}
]},

{"width":1694,"height":670,
"layer":[
{"data":{"name":"bg"},"mark":{"type":"rect","color":"#d62728","opacity":0.06},"encoding":{"x":{"field":"a","type":"quantitative","scale":{"domain":[8.1,236.1],"nice":false,"zero":false},"axis":{"values":[15,30,45,60,75,90,105,120,135,150,165,180,195,210,225],"grid":true,"gridColor":"#b0b0b0","gridWidth":1.5,"gridDash":{"condition":{"test":"datum.value%60==0","value":[]},"value":[8,5]},"labels":false,"tickWidth":2,"tickSize":{"condition":{"test":"datum.value%60==0","value":36},"value":0},"title":null}},"x2":{"field":"b"}}},
{"data":{"name":"vl"},"mark":{"type":"rule","color":"black"},"encoding":{"x":{"field":"m","type":"quantitative"},"strokeWidth":{"field":"k","type":"nominal","scale":{"domain":["major","minor","end"],"range":[2.2,1.2,1]},"legend":null}}},
{"data":{"name":"p6"},"mark":{"type":"line","interpolate":"step-after","strokeWidth":8,"clip":true},"encoding":{"x":{"field":"m","type":"quantitative"},"y":{"field":"v","type":"quantitative","scale":{"domain":[18.13,35.86],"nice":false,"zero":false},"axis":{"values":[20,22,24,26,28,30,32,34],"title":"Detector Temp","titleX":-122}},"color":{"field":"s","type":"nominal","scale":{"domain":["2SPINATM","2SPHVATM","2IMINATM","2IMHVATM"],"range":["#1f77b4","#ff7f0e","#2ca02c","#d62728"]},"legend":{"orient":"none","legendX":1436,"legendY":247}}}}
]},

{"width":1694,"height":670,
"layer":[
{"data":{"name":"bg"},"mark":{"type":"rect","color":"#d62728","opacity":0.06},"encoding":{"x":{"field":"a","type":"quantitative","scale":{"domain":[8.1,236.1],"nice":false,"zero":false},"axis":{"values":[15,30,45,60,75,90,105,120,135,150,165,180,195,210,225],"grid":true,"gridColor":"#b0b0b0","gridWidth":1.5,"gridDash":{"condition":{"test":"datum.value%60==0","value":[]},"value":[8,5]},"labels":true,"labelExpr":"datum.value%60==0?'0'+(datum.value/60+6)+'h':format(datum.value%60,'d')","labelFontSize":{"condition":{"test":"datum.value%60==0","value":28},"value":20},"labelPadding":{"condition":{"test":"datum.value%60==0","value":6},"value":-28},"tickWidth":2,"tickSize":{"condition":{"test":"datum.value%60==0","value":36},"value":0},"title":"2021-03-23 (082)","titlePadding":10}},"x2":{"field":"b"}}},
{"data":{"name":"vl"},"mark":{"type":"rule","color":"black"},"encoding":{"x":{"field":"m","type":"quantitative"},"strokeWidth":{"field":"k","type":"nominal","scale":{"domain":["major","minor","end"],"range":[2.2,1.2,1]},"legend":null}}},
{"data":{"name":"p7"},"mark":{"type":"line","interpolate":"step-after","strokeWidth":8,"clip":true},"encoding":{"x":{"field":"m","type":"quantitative"},"y":{"field":"v","type":"quantitative","scale":{"domain":[14.21,24.66],"nice":false,"zero":false},"axis":{"values":[16,18,20,22,24],"title":"FEA Temp","titleX":-122}},"color":{"field":"s","type":"nominal","scale":{"domain":["2FHTRMZT","2FRADPYT","2FEPRATM","2FE00ATM"],"range":["#1f77b4","#ff7f0e","#2ca02c","#d62728"]},"legend":{"orient":"none","legendX":15,"legendY":245}}}}
]}
]
}
